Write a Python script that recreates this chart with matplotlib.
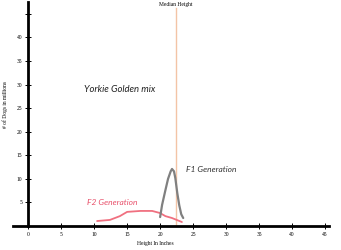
import numpy as np
import matplotlib.pyplot as plt

# data
f1_height = [20.0, 20.3, 20.8, 21.2, 21.6, 21.8, 22.1, 22.3, 22.6, 22.9, 23.2, 23.5]
f1_dogs = [1.9, 4.5, 7.6, 10.0, 11.6, 12.1, 11.6, 10.2, 7.0, 4.4, 2.5, 1.7]
f2_height = [10.45, 12.4, 13.9, 15.0, 17.0, 18.8, 20.0, 20.8, 21.8, 23.3]
f2_dogs = [1.06, 1.3, 2.1, 3.0, 3.2, 3.2, 2.75, 2.1, 1.7, 0.85]
median_height = 22.4
x_ticks = [0, 5, 10, 15, 20, 25, 30, 35, 40, 45]
y_ticks = [5, 10, 15, 20, 25, 30, 35, 40, 45]
y_tick_labels = ["5", "10", "15", "20", "25", "30", "35", "40", ""]

fig = plt.figure(figsize=(3.41, 2.5), dpi=100)
ax = fig.add_axes([0.038, 0.077, 0.927, 0.915])
ax.set_xlim(-2.3, 45.6)
ax.set_ylim(-1, 47.5)

ax.spines["top"].set_visible(False)
ax.spines["right"].set_visible(False)
ax.spines["left"].set_position(("data", 0))
ax.spines["bottom"].set_position(("data", 0))
ax.spines["left"].set_bounds(0, 47.5)
ax.spines["left"].set_linewidth(2)
ax.spines["bottom"].set_linewidth(2)

ax.set_xticks(x_ticks)
ax.set_yticks(y_ticks)
ax.set_yticklabels(y_tick_labels)
ax.tick_params(direction="inout", length=5, width=0.7, labelsize=4, pad=1.5)
for lab in ax.get_xticklabels() + ax.get_yticklabels():
    lab.set_family("Liberation Serif")

ax.plot([median_height, median_height], [0, 46.3], color="#f3c4a6", lw=1)
ax.plot(f2_height, f2_dogs, color="#f07080", lw=1.3, solid_capstyle="round")
ax.plot(f1_height, f1_dogs, color="#808080", lw=1.6, solid_capstyle="round")

hand = dict(family="Lato", style="italic", weight="normal", ha="center", va="center")
ax.text(median_height, 46.9, "Median Height", fontsize=4, family="Liberation Serif",
        ha="center", va="center")
ax.text(13.8, 29.0, "Yorkie Golden mix", fontsize=6.8, color="#222222", **hand)
ax.text(27.7, 11.9, "F1 Generation", fontsize=6, color="#333333", **hand)
ax.text(12.8, 4.9, "F2 Generation", fontsize=6, color="#e8506a", **hand)

fig.text(155 / 341, 1 - 244 / 250, "Height In Inches", fontsize=4,
         family="Liberation Serif", ha="center", va="center")
fig.text(5 / 341, 1 - 105 / 250, "# of Dogs in millions", fontsize=4,
         family="Liberation Serif", rotation=90, ha="center", va="center")

fig.savefig("out.png", dpi=100)
